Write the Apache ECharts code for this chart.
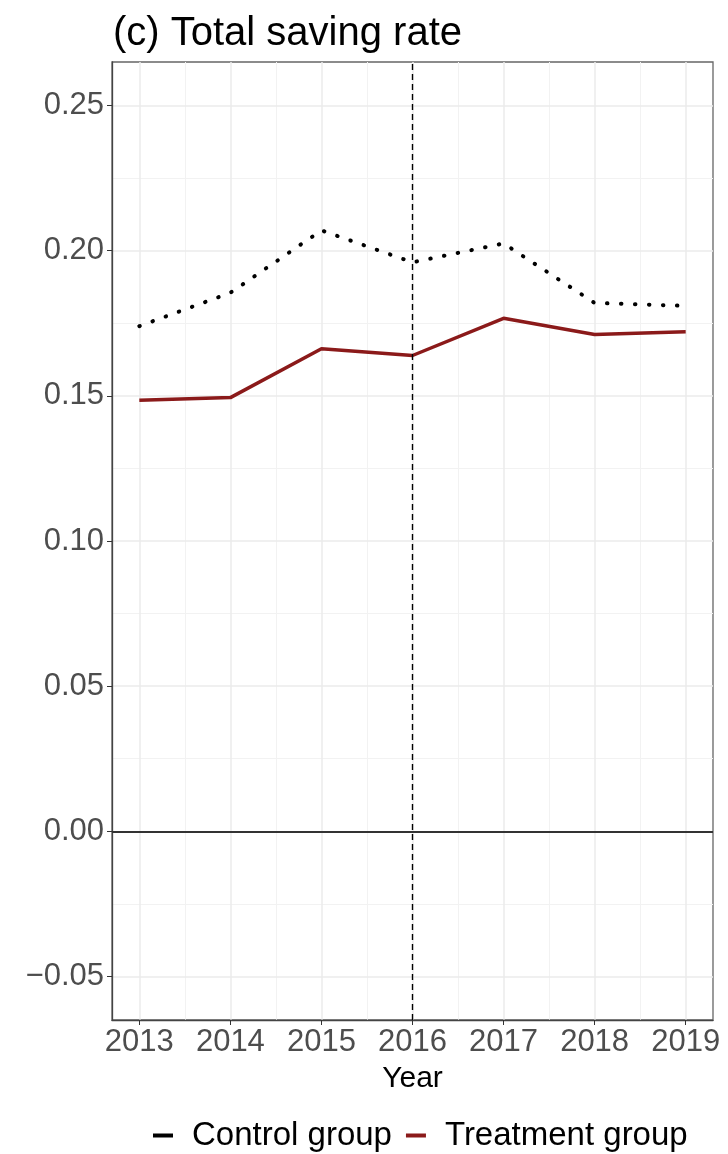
<!DOCTYPE html>
<html>
<head>
<meta charset="utf-8">
<script src="https://cdn.jsdelivr.net/npm/echarts@6/dist/echarts.min.js"></script>
<style>
html,body{margin:0;padding:0;background:#fff;}
#c{width:728px;height:1154px;}
</style>
</head>
<body>
<div id="c"></div>
<script>
const years = [2013, 2014, 2015, 2016, 2017, 2018, 2019];
const controlGroup = [0.174, 0.1855, 0.207, 0.196, 0.2025, 0.182, 0.181];
const treatmentGroup = [0.1485, 0.1494, 0.1662, 0.1639, 0.1767, 0.1711, 0.1721];
const seriesNames = ['Control group', 'Treatment group'];
const titleText = '(c) Total saving rate';
const xAxisTitle = 'Year';
const policyYear = 2016;
const xTicks = [2013, 2014, 2015, 2016, 2017, 2018, 2019];
const xMinorTicks = [2013.5, 2014.5, 2015.5, 2016.5, 2017.5, 2018.5];
const yTicks = [-0.05, 0, 0.05, 0.1, 0.15, 0.2, 0.25];
const yMinorTicks = [-0.025, 0.025, 0.075, 0.125, 0.175, 0.225];
const xRange = [2012.7, 2019.3];
const yRange = [-0.065, 0.265];

const FONT = 'Liberation Sans, Arial, sans-serif';
const chart = echarts.init(document.getElementById('c'), null, {renderer: 'canvas'});

const toPairs = (vals) => years.map((y, i) => [y, vals[i]]);
const fmtY = (v) => (v < -1e-9 ? '\u2212' : '') + Math.abs(v).toFixed(2);

chart.setOption({
  backgroundColor: '#ffffff',
  animation: false,
  title: {
    text: titleText,
    left: 108, top: 9,
    textStyle: {fontFamily: FONT, fontSize: 40, fontWeight: 'normal', color: '#000'}
  },
  grid: {
    left: 112, right: 15, top: 62, bottom: 134,
    show: true, borderColor: '#666', borderWidth: 1.3
  },
  legend: {
    data: [
      {name: seriesNames[0], icon: 'rect', itemStyle: {color: '#000'}},
      {name: seriesNames[1], icon: 'rect', itemStyle: {color: '#8b1a1a'}}
    ],
    left: 148, top: 1114,
    itemWidth: 20, itemHeight: 4, itemGap: 14,
    textStyle: {fontFamily: FONT, fontSize: 33, color: '#000', padding: [0, 0, 0, 14]}
  },
  xAxis: [
    {
      type: 'value',
      min: xRange[0], max: xRange[1],
      name: xAxisTitle, nameLocation: 'middle', nameGap: 44,
      nameTextStyle: {fontFamily: FONT, fontSize: 30, color: '#000'},
      axisLine: {show: true, onZero: false, lineStyle: {color: '#444', width: 1.3}},
      axisTick: {show: true, length: 5, lineStyle: {color: '#333'}, customValues: xTicks},
      axisLabel: {
        fontFamily: FONT, fontSize: 31, color: '#4d4d4d', margin: 7,
        customValues: xTicks,
        formatter: (v) => String(v)
      },
      splitLine: {show: true, lineStyle: {color: '#ebebeb', width: 1.5}},
      z: 2
    },
    {
      type: 'value',
      min: xRange[0], max: xRange[1],
      position: 'bottom',
      axisLine: {show: false},
      axisTick: {show: false, customValues: xMinorTicks},
      axisLabel: {show: false, customValues: xMinorTicks},
      splitLine: {show: true, lineStyle: {color: '#f2f2f2', width: 1}},
      z: 1
    }
  ],
  yAxis: [
    {
      type: 'value',
      min: yRange[0], max: yRange[1],
      axisLine: {show: true, onZero: false, lineStyle: {color: '#444', width: 1.3}},
      axisTick: {show: true, length: 5, lineStyle: {color: '#333'}, customValues: yTicks},
      axisLabel: {
        fontFamily: FONT, fontSize: 31, color: '#4d4d4d', margin: 8,
        customValues: yTicks,
        formatter: fmtY
      },
      splitLine: {show: true, lineStyle: {color: '#ebebeb', width: 1.5}},
      z: 2
    },
    {
      type: 'value',
      min: yRange[0], max: yRange[1],
      position: 'left',
      axisLine: {show: false},
      axisTick: {show: false, customValues: yMinorTicks},
      axisLabel: {show: false, customValues: yMinorTicks},
      splitLine: {show: true, lineStyle: {color: '#f2f2f2', width: 1}},
      z: 1
    }
  ],
  series: [
    {
      name: seriesNames[0],
      type: 'line',
      data: toPairs(controlGroup),
      showSymbol: false,
      symbol: 'none',
      color: '#000',
      lineStyle: {color: '#000', width: 4, type: [0.5, 13.5], cap: 'round'},
      z: 3,
      markLine: {
        silent: true, symbol: 'none', label: {show: false},
        data: [
          {yAxis: 0, lineStyle: {color: '#333', width: 1.8, type: 'solid'}},
          {xAxis: policyYear, lineStyle: {color: '#000', width: 1.4, type: [6, 4]}}
        ]
      }
    },
    {
      name: seriesNames[1],
      type: 'line',
      data: toPairs(treatmentGroup),
      showSymbol: false,
      symbol: 'none',
      color: '#8b1a1a',
      lineStyle: {color: '#8b1a1a', width: 3.5},
      z: 4
    }
  ]
});
</script>
</body>
</html>
